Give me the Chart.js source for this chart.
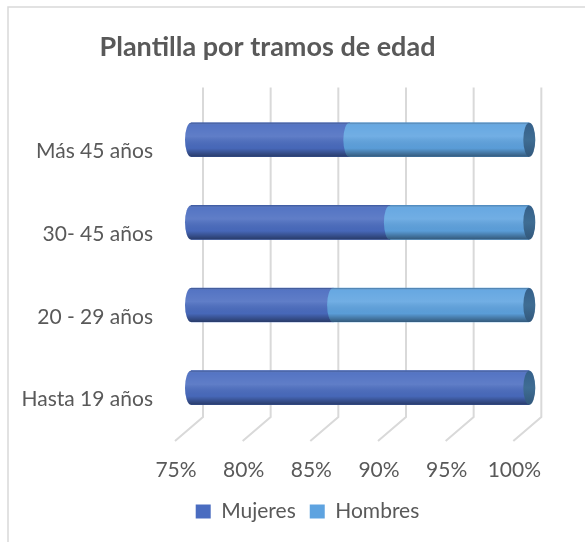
<!DOCTYPE html>
<html>
<head>
<meta charset="utf-8">
<script src="https://cdn.jsdelivr.net/npm/chart.js@4.4.1/dist/chart.umd.min.js"></script>
<style>
  html, body { margin: 0; padding: 0; background: #fff; }
  #wrap { width: 585px; height: 542px; }
</style>
</head>
<body>
<div id="wrap"><canvas id="plantilla" width="585" height="542"></canvas></div>
<script>
const categories = ["Más 45 años", "30- 45 años", "20 - 29 años", "Hasta 19 años"];
const mujeres = [86.7, 89.7, 85.5, 100];
const hombres = [13.3, 10.3, 14.5, 0];
const xTicks = [75, 80, 85, 90, 95, 100];

const FONT = "Lato, 'Open Sans', sans-serif";
const TEXT = "#595959";
const GRID = "#d9d9d9";
const CAP = "#3f6d93";

// fake 3d: back wall / floor offsets relative to the bar plane
const BACK_DX = 12, FRONT_DX = -16;
const LEGEND_DX = 40;

const depth3d = {
  id: "depth3d",
  afterLayout(chart) {
    // the excel legend sits right of the title centre
    chart.legend.left += LEGEND_DX;
    chart.legend.right += LEGEND_DX;
  },
  beforeDraw(chart) {
    const { ctx, width, height } = chart;
    ctx.save();
    ctx.strokeStyle = GRID;
    ctx.lineWidth = 1.5;
    ctx.beginPath();
    ctx.moveTo(8, height);
    ctx.lineTo(8, 7);
    ctx.lineTo(width, 7);
    ctx.stroke();
    ctx.restore();
  },
  beforeDatasetsDraw(chart) {
    const { ctx, chartArea, scales: { x } } = chart;
    const wallTop = chartArea.top - 11;
    const wallBottom = chartArea.bottom - 12;
    const floorFront = chartArea.bottom + 12;
    ctx.save();
    ctx.strokeStyle = GRID;
    ctx.lineWidth = 2;
    xTicks.forEach(v => {
      const px = x.getPixelForValue(v);
      ctx.beginPath();
      ctx.moveTo(px + BACK_DX, wallTop);
      ctx.lineTo(px + BACK_DX, wallBottom);
      ctx.lineTo(px + FRONT_DX, floorFront);
      ctx.stroke();
    });
    ctx.restore();
  },
  afterDatasetsDraw(chart) {
    const { ctx, scales: { x } } = chart;
    const ends = [];
    ctx.save();
    chart.data.datasets.forEach((ds, di) => {
      const meta = chart.getDatasetMeta(di);
      meta.data.forEach((bar, i) => {
        const p = bar.getProps(["x", "y", "base", "height"], true);
        const left = Math.max(Math.min(p.base, p.x), x.left);
        const right = Math.max(p.base, p.x);
        if (right - left < 0.5) return;
        const top = p.y - p.height / 2, bottom = p.y + p.height / 2;
        const rx = 6, ry = p.height / 2;
        const g = ctx.createLinearGradient(0, top, 0, bottom);
        g.addColorStop(0, "rgba(0,0,0,0.30)");
        g.addColorStop(0.07, "rgba(255,255,255,0.06)");
        g.addColorStop(0.4, "rgba(255,255,255,0.12)");
        g.addColorStop(0.75, "rgba(0,0,0,0.04)");
        g.addColorStop(1, "rgba(0,0,0,0.45)");
        // rounded left end of the segment
        ctx.beginPath();
        ctx.ellipse(left, p.y, rx, ry, 0, Math.PI / 2, Math.PI * 1.5);
        ctx.lineTo(right, top);
        ctx.lineTo(right, bottom);
        ctx.closePath();
        ctx.fillStyle = ds.backgroundColor;
        ctx.fill();
        ctx.fillStyle = g;
        ctx.fill();
        ends[i] = { x: right, y: p.y, ry };
      });
    });
    ends.forEach(e => {
      if (!e) return;
      const g = ctx.createLinearGradient(0, e.y - e.ry, 0, e.y + e.ry);
      g.addColorStop(0, "#35608a");
      g.addColorStop(0.5, CAP);
      g.addColorStop(1, "#32587c");
      ctx.beginPath();
      ctx.ellipse(e.x, e.y, 6, e.ry, 0, 0, Math.PI * 2);
      ctx.fillStyle = g;
      ctx.fill();
    });
    ctx.restore();
  }
};

new Chart(document.getElementById("plantilla"), {
  type: "bar",
  data: {
    labels: categories,
    datasets: [
      { label: "Mujeres", data: mujeres, backgroundColor: "#4a6cc0" },
      { label: "Hombres", data: hombres, backgroundColor: "#5ea3e0" }
    ]
  },
  options: {
    indexAxis: "y",
    responsive: false,
    animation: false,
    layout: { padding: { left: 0, right: 50, top: 0, bottom: 10 } },
    datasets: { bar: { barThickness: 34, borderWidth: 0 } },
    plugins: {
      title: {
        display: true,
        text: "Plantilla por tramos de edad",
        color: TEXT,
        font: { family: FONT, size: 27, weight: "bold" },
        padding: { top: 31, bottom: 35 }
      },
      legend: {
        position: "bottom",
        labels: {
          color: TEXT,
          boxWidth: 15,
          boxHeight: 14,
          padding: 14,
          font: { family: FONT, size: 21 }
        }
      },
      tooltip: { enabled: false }
    },
    scales: {
      x: {
        stacked: true,
        min: 75,
        max: 100,
        afterBuildTicks: axis => { axis.ticks = xTicks.map(v => ({ value: v })); },
        afterFit: axis => { axis.height = 58; },
        grid: { display: false, drawTicks: false },
        border: { display: false },
        ticks: {
          color: TEXT,
          labelOffset: -15,
          padding: 29,
          maxRotation: 0,
          font: { family: FONT, size: 21 },
          callback: v => v + "%"
        }
      },
      y: {
        stacked: true,
        afterFit: axis => { axis.width = 191; },
        grid: { display: false, drawTicks: false },
        border: { display: false },
        ticks: {
          color: TEXT,
          padding: 38,
          labelOffset: 12,
          font: { family: FONT, size: 21 }
        }
      }
    }
  },
  plugins: [depth3d]
});
</script>
</body>
</html>
